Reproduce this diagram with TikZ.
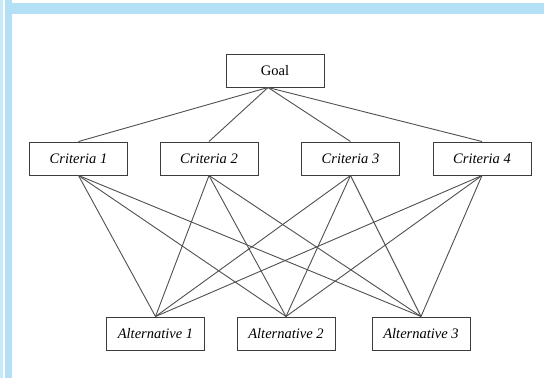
\documentclass[tikz,border=0pt]{standalone}
\usepackage{fontspec}
\setmainfont{Liberation Serif}
\definecolor{frameblue}{RGB}{180,224,246}
\definecolor{framelight}{RGB}{200,233,250}
\definecolor{boxline}{RGB}{60,60,60}
\definecolor{linkline}{RGB}{80,80,80}
\begin{document}
\begin{tikzpicture}[x=1pt,y=-1pt,
  box/.style={draw=boxline,line width=1pt,fill=white,minimum width=98pt,minimum height=33pt,inner sep=0pt,font=\fontsize{14.5}{16}\selectfont},
  crit/.style={box,font=\fontsize{14.5}{16}\selectfont\itshape},
  alt/.style={box,font=\fontsize{14.5}{16}\selectfont\itshape},
  link/.style={draw=linkline,line width=0.9pt}]
\useasboundingbox (0,0) rectangle (544,378);
\fill[white] (0,0) rectangle (544,378);
% frame
\fill[framelight] (0,0) rectangle (2.7,378);
\fill[frameblue] (5,0) rectangle (12,378);
\fill[frameblue] (12,3) rectangle (544,14);
% nodes
\node[box] (goal) at (275,70.5) {Goal};
\node[crit] (c1) at (78.5,158.5) {Criteria 1};
\node[crit] (c2) at (209,158.5) {Criteria 2};
\node[crit] (c3) at (350.5,158.5) {Criteria 3};
\node[crit] (c4) at (482,158.5) {Criteria 4};
\node[alt] (a1) at (155.5,333.5) {Alternative 1};
\node[alt] (a2) at (286,333.5) {Alternative 2};
\node[alt] (a3) at (421,333.5) {Alternative 3};
\coordinate (gs) at ([xshift=-7pt]goal.south);
% goal links
\foreach \c in {c1,c2,c3,c4} \draw[link] (gs) -- (\c.north);
% criteria to alternatives
\foreach \c in {c1,c2,c3,c4}
  \foreach \a in {a1,a2,a3}
    \draw[link] (\c.south) -- (\a.north);
\end{tikzpicture}
\end{document}
